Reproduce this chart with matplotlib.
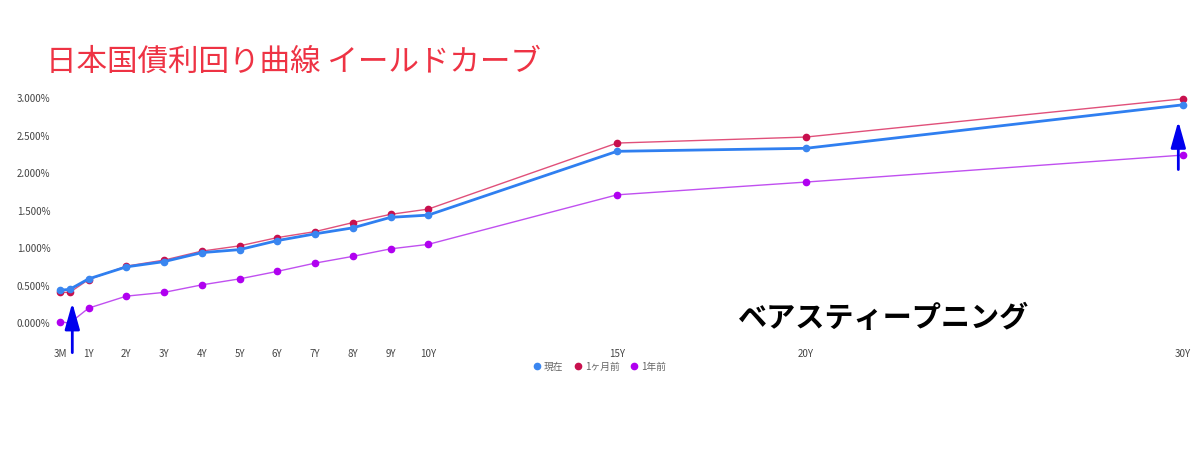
import matplotlib.pyplot as plt

plt.rcParams["font.family"] = ["Noto Sans CJK JP", "DejaVu Sans"]

maturities = [0.25, 0.5, 1, 2, 3, 4, 5, 6, 7, 8, 9, 10, 15, 20, 30]
tick_pos = [0.25, 1, 2, 3, 4, 5, 6, 7, 8, 9, 10, 15, 20, 30]
tick_labels = ["3M", "1Y", "2Y", "3Y", "4Y", "5Y", "6Y", "7Y", "8Y", "9Y", "10Y", "15Y", "20Y", "30Y"]

now = [0.44, 0.45, 0.59, 0.75, 0.82, 0.94, 0.98, 1.10, 1.19, 1.27, 1.41, 1.44, 2.29, 2.33, 2.91]
month_ago = [0.41, 0.41, 0.58, 0.76, 0.84, 0.96, 1.03, 1.14, 1.22, 1.34, 1.45, 1.52, 2.40, 2.48, 2.99]
year_ago = [0.02, 0.00, 0.20, 0.36, 0.41, 0.51, 0.59, 0.69, 0.80, 0.89, 0.99, 1.05, 1.71, 1.88, 2.24]

fig = plt.figure(figsize=(12, 4.5), dpi=100)
ax = fig.add_axes([0.046, 0.244, 0.946, 0.556])

ax.plot(maturities, month_ago, color="#e0507a", lw=1, marker="o", ms=4.5,
        mfc="#c8104e", mec="#c8104e", label="1ヶ月前", zorder=2)
ax.plot(maturities, year_ago, color="#c050f0", lw=1, marker="o", ms=4.5,
        mfc="#b000f0", mec="#b000f0", label="1年前", zorder=2)
ax.plot(maturities, now, color="#2f7ff0", lw=2, marker="o", ms=4.5,
        mfc="#3a86f0", mec="#3a86f0", label="現在", zorder=3)

ax.set_xlim(0.117, 30.19)
ax.set_ylim(-0.227, 3.107)
ax.set_xticks(tick_pos)
ax.set_xticklabels(tick_labels)
ax.set_yticks([0, 0.5, 1, 1.5, 2, 2.5, 3])
ax.set_yticklabels([f"{v:.3f}%" for v in [0, 0.5, 1, 1.5, 2, 2.5, 3]])
ax.tick_params(length=0, labelsize=7, colors="#444444")
ax.tick_params(axis="x", pad=6)
for s in ax.spines.values():
    s.set_visible(False)

handles, labels = ax.get_legend_handles_labels()
order = [2, 0, 1]
fig.legend([handles[i] for i in order], [labels[i] for i in order],
           loc="center", bbox_to_anchor=(0.5, 0.185), ncol=3, frameon=False,
           fontsize=7, handlelength=0.6, handletextpad=0.4, columnspacing=1.2,
           labelcolor="#666666")
for h in fig.legends[0].legend_handles:
    h.set_linestyle("none")

fig.text(0.038, 0.862, "日本国債利回り曲線 イールドカーブ", color="#ee3344",
         fontsize=22, va="center")
fig.text(0.615, 0.293, "ベアスティープニング", color="black",
         fontsize=21, fontweight="bold", va="center")

arrow = dict(arrowstyle="-|>,head_width=0.45,head_length=1.6", color="#0000ee", lw=2)
ax.annotate("", xy=(0.57, 0.31), xytext=(0.57, -0.43), arrowprops=arrow,
            annotation_clip=False)
ax.annotate("", xy=(29.87, 2.73), xytext=(29.87, 2.01), arrowprops=arrow,
            annotation_clip=False)

fig.savefig("out.png", dpi=100)
